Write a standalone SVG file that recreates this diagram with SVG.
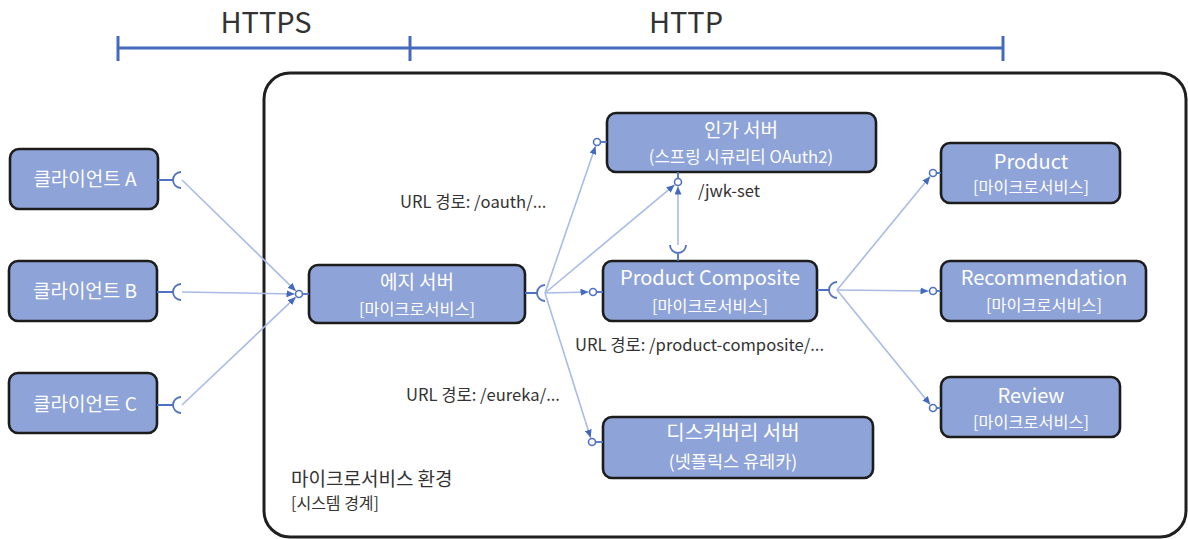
<svg xmlns="http://www.w3.org/2000/svg" width="1188" height="539" viewBox="0 0 1188 539">
<style>
.node{fill:#8ea3d8;stroke:#1c1c1c;stroke-width:2.6}
.t{font-family:"Noto Sans CJK KR","Noto Sans",sans-serif;fill:#ffffff;text-anchor:middle}
.h{font-size:19px}
.s{font-size:16.3px}
.lbl{font-family:"Noto Sans CJK KR","Noto Sans",sans-serif;fill:#333333;font-size:16.6px}
.conn{stroke:#a9bbe6;stroke-width:1.6;fill:none}
.sock{stroke:#4f71c4;stroke-width:1.8;fill:none}
.lol{stroke:#4f71c4;stroke-width:1.6;fill:#ffffff}
.bar{stroke:#4469bd;stroke-width:3;fill:none}
</style>
<defs>
<marker id="arr" markerUnits="userSpaceOnUse" markerWidth="8" markerHeight="7" refX="8" refY="3.5" orient="auto">
<path d="M0,0 L8,3.5 L0,7 z" fill="#4469c0"/>
</marker>
</defs>

<g id="protocol-bar">
<line class="bar" x1="118" y1="48" x2="1003" y2="48"/>
<line class="bar" x1="118" y1="36" x2="118" y2="61"/>
<line class="bar" x1="410" y1="36" x2="410" y2="61"/>
<line class="bar" x1="1003" y1="36" x2="1003" y2="61"/>
<text x="266" y="33" font-family="'Noto Sans CJK KR','Noto Sans',sans-serif" font-size="29" fill="#333" text-anchor="middle">HTTPS</text>
<text x="686" y="33" font-family="'Noto Sans CJK KR','Noto Sans',sans-serif" font-size="29" fill="#333" text-anchor="middle">HTTP</text>
</g>

<g id="system-boundary">
<rect x="264" y="73" width="922" height="464" rx="26" fill="none" stroke="#1f1f1f" stroke-width="3"/>
<text class="lbl" x="291" y="486" style="font-size:19px">마이크로서비스 환경</text>
<text class="lbl" x="291" y="509" style="font-size:16px">[시스템 경계]</text>
</g>

<g id="connectors">
<line class="conn" x1="182" y1="180" x2="295.8" y2="290.9" marker-end="url(#arr)"/>
<line class="conn" x1="182" y1="292" x2="294.5" y2="294" marker-end="url(#arr)"/>
<line class="conn" x1="182" y1="405" x2="295.7" y2="297.1" marker-end="url(#arr)"/>
<line class="conn" x1="545" y1="293" x2="595.5" y2="146.3" marker-end="url(#arr)"/>
<line class="conn" x1="545" y1="293" x2="674.5" y2="184.9" marker-end="url(#arr)"/>
<line class="conn" x1="545" y1="293" x2="588.5" y2="292" marker-end="url(#arr)"/>
<line class="conn" x1="545" y1="293" x2="590.6" y2="437.7" marker-end="url(#arr)"/>
<line class="conn" x1="678" y1="245" x2="678" y2="186.5" marker-end="url(#arr)"/>
<line class="conn" x1="837" y1="290" x2="930.1" y2="176.5" marker-end="url(#arr)"/>
<line class="conn" x1="837" y1="290" x2="928.5" y2="291" marker-end="url(#arr)"/>
<line class="conn" x1="837" y1="290" x2="930.2" y2="404.5" marker-end="url(#arr)"/>
</g>

<g id="client-a">
<rect class="node" x="10" y="149" width="148" height="60" rx="9"/>
<text class="t h" x="85" y="186">클라이언트 A</text>
<path class="sock" d="M158,180 H173 M181,172 A8,8 0 0,0 181,188"/>
</g>
<g id="client-b">
<rect class="node" x="9" y="261" width="148" height="60" rx="9"/>
<text class="t h" x="85" y="298">클라이언트 B</text>
<path class="sock" d="M157,292 H173 M181,284 A8,8 0 0,0 181,300"/>
</g>
<g id="client-c">
<rect class="node" x="9" y="373" width="148" height="60" rx="9"/>
<text class="t h" x="85" y="411">클라이언트 C</text>
<path class="sock" d="M157,405 H173 M181,397 A8,8 0 0,0 181,413"/>
</g>

<g id="edge-server">
<rect class="node" x="309" y="265" width="216" height="58" rx="9"/>
<text class="t h" x="417" y="289">에지 서버</text>
<text class="t s" x="417" y="315">[마이크로서비스]</text>
<line class="sock" x1="302.5" y1="294" x2="309" y2="294"/>
<circle class="lol" cx="299" cy="294" r="3.5"/>
<path class="sock" d="M525,293 H537 M545,285 A8,8 0 0,0 545,301"/>
</g>

<g id="auth-server">
<rect class="node" x="607" y="113" width="269" height="59" rx="9"/>
<text class="t h" x="741" y="137">인가 서버</text>
<text class="t s" x="741" y="163" style="font-size:16.7px">(스프링 시큐리티 OAuth2)</text>
<line class="sock" x1="600.5" y1="142" x2="607" y2="142"/>
<circle class="lol" cx="597" cy="142" r="3.5"/>
<line class="sock" x1="678" y1="172" x2="678" y2="178.5"/>
<circle class="lol" cx="678" cy="182" r="3.5"/>
<text class="lbl" x="698" y="197">/jwk-set</text>
</g>

<g id="product-composite">
<rect class="node" x="603" y="261" width="214" height="60" rx="9"/>
<text class="t" x="710" y="285" style="font-size:20px">Product Composite</text>
<text class="t s" x="710" y="312">[마이크로서비스]</text>
<line class="sock" x1="596.5" y1="292" x2="603" y2="292"/>
<circle class="lol" cx="593" cy="292" r="3.5"/>
<path class="sock" d="M678,253 V261 M670,245 A8,8 0 0,0 686,245"/>
<path class="sock" d="M817,290 H829 M837,282 A8,8 0 0,0 837,298"/>
</g>

<g id="discovery-server">
<rect class="node" x="603" y="417" width="270" height="61" rx="9"/>
<text class="t" x="733" y="440" style="font-size:20px">디스커버리 서버</text>
<text class="t s" x="733" y="468" style="font-size:17.5px">(넷플릭스 유레카)</text>
<line class="sock" x1="595.5" y1="442" x2="603" y2="442"/>
<circle class="lol" cx="592" cy="442" r="3.5"/>
</g>

<g id="product">
<rect class="node" x="941" y="143" width="179" height="60" rx="9"/>
<text class="t" x="1031" y="169" style="font-size:20px">Product</text>
<text class="t s" x="1031" y="193">[마이크로서비스]</text>
<line class="sock" x1="936.5" y1="173" x2="941" y2="173"/>
<circle class="lol" cx="933" cy="173" r="3.5"/>
</g>

<g id="recommendation">
<rect class="node" x="941" y="261" width="205" height="60" rx="9"/>
<text class="t" x="1044" y="285" style="font-size:20px">Recommendation</text>
<text class="t s" x="1044" y="311">[마이크로서비스]</text>
<line class="sock" x1="936.5" y1="291" x2="941" y2="291"/>
<circle class="lol" cx="933" cy="291" r="3.5"/>
</g>

<g id="review">
<rect class="node" x="941" y="377" width="179" height="60" rx="9"/>
<text class="t" x="1031" y="403" style="font-size:20px">Review</text>
<text class="t s" x="1031" y="428">[마이크로서비스]</text>
<line class="sock" x1="936.5" y1="408" x2="941" y2="408"/>
<circle class="lol" cx="933" cy="408" r="3.5"/>
</g>

<g id="route-labels">
<text class="lbl" x="400" y="208">URL 경로: /oauth/...</text>
<text class="lbl" x="575" y="351">URL 경로: /product-composite/...</text>
<text class="lbl" x="406" y="401">URL 경로: /eureka/...</text>
</g>
</svg>
